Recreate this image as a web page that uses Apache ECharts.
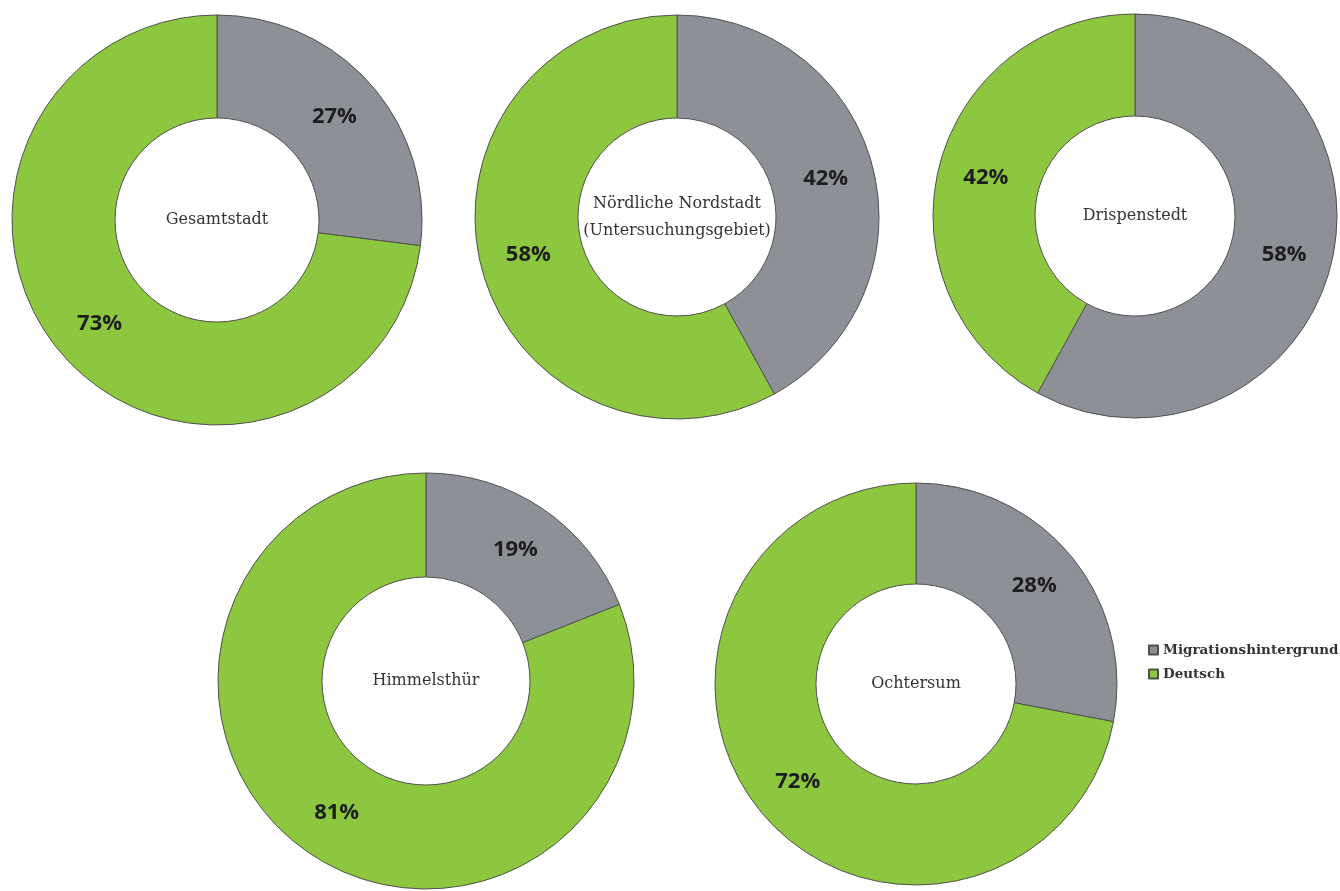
<!DOCTYPE html>
<html><head><meta charset="utf-8">
<script src="https://cdn.jsdelivr.net/npm/echarts@6/dist/echarts.min.js"></script>
<style>html,body{margin:0;padding:0;background:#fff}#c{width:1340px;height:891px}</style>
</head><body><div id="c"></div>
<script>
const regions = ['Gesamtstadt', 'Nördliche Nordstadt\n(Untersuchungsgebiet)', 'Drispenstedt', 'Himmelsthür', 'Ochtersum'];
const seriesNames = ['Migrationshintergrund', 'Deutsch'];
const migration = [27, 42, 58, 19, 28];
const deutsch = [73, 58, 42, 81, 72];

const layout = [
  {c: [217, 220], r: [102, 205]},
  {c: [677, 217], r: [99, 202]},
  {c: [1135, 216], r: [100, 202]},
  {c: [426, 681], r: [104, 208]},
  {c: [916, 684], r: [100, 201]}
];
const colors = ['#8e9097', '#8dc63f'];

const chart = echarts.init(document.getElementById('c'));
const series = regions.map((name, i) => ({
  type: 'pie',
  name: name,
  center: layout[i].c,
  radius: layout[i].r,
  startAngle: 90,
  clockwise: true,
  silent: true,
  animation: false,
  itemStyle: {borderColor: '#505050', borderWidth: 1},
  label: {
    show: true, position: 'inside', formatter: '{c}%',
    fontFamily: 'Open Sans', fontWeight: 'bold', fontSize: 22, color: '#1e1e1e'
  },
  labelLine: {show: false},
  emphasis: {disabled: true},
  data: [
    {name: seriesNames[0], value: migration[i], itemStyle: {color: colors[0]}},
    {name: seriesNames[1], value: deutsch[i], itemStyle: {color: colors[1]}}
  ]
}));

const graphics = regions.map((name, i) => ({
  type: 'text',
  x: layout[i].c[0], y: layout[i].c[1],
  style: {
    text: name, textAlign: 'center', textVerticalAlign: 'middle',
    fontFamily: 'DejaVu Serif', fontSize: 16, lineHeight: 27, fill: '#333'
  },
  silent: true
}));

chart.setOption({
  animation: false,
  color: colors,
  legend: {
    data: seriesNames, orient: 'vertical', left: 1143, top: 638,
    itemWidth: 9, itemHeight: 9, itemGap: 10, icon: 'rect',
    selectedMode: false,
    textStyle: {fontFamily: 'DejaVu Serif', fontSize: 13.5, fontWeight: 'bold', color: '#333'}
  },
  graphic: graphics,
  series: series
});
</script></body></html>
